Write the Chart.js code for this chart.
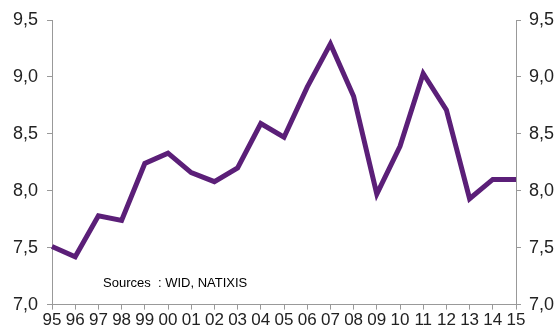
<!DOCTYPE html>
<html lang="fr">
<head>
  <meta charset="UTF-8" />
  <title>Graphique</title>
  <script src="https://cdn.jsdelivr.net/npm/chart.js"></script>
  <style>
    body { margin: 0; background: #fff; }
  </style>
</head>
<body>
  <canvas id="graph" width="557" height="332"></canvas>
  <script>
    const annees = ['95','96','97','98','99','00','01','02','03','04','05','06','07','08','09','10','11','12','13','14','15'];
    const valeurs = [7.51, 7.42, 7.78, 7.74, 8.24, 8.33, 8.16, 8.08, 8.20, 8.59, 8.47, 8.91, 9.29, 8.83, 7.97, 8.39, 9.03, 8.71, 7.93, 8.10, 8.10];
    const source = 'Sources  : WID, NATIXIS';

    const gris = '#999999';
    const police = '"Liberation Sans", Arial, sans-serif';
    const virgule = v => v.toFixed(1).replace('.', ',');

    const texteSource = {
      id: 'texteSource',
      afterDraw(chart) {
        const ctx = chart.ctx;
        const a = chart.chartArea;
        ctx.save();
        ctx.font = '13px ' + police;
        ctx.fillStyle = '#000';
        ctx.textBaseline = 'middle';
        ctx.fillText(source, a.left + 51, a.bottom - 21);
        ctx.restore();
      }
    };

    const axeY = (pos, largeur, pad) => ({
      position: pos,
      min: 7,
      max: 9.5,
      afterFit: s => { s.width = largeur; },
      border: { color: gris, width: 1 },
      grid: { drawOnChartArea: false, drawTicks: true, tickLength: 5, color: gris },
      ticks: {
        stepSize: 0.5,
        color: '#222',
        padding: pad,
        font: { size: 18, family: police },
        callback: v => virgule(v)
      }
    });

    new Chart(document.getElementById('graph'), {
      type: 'line',
      data: {
        labels: annees,
        datasets: [{
          data: valeurs,
          borderColor: '#5b1f78',
          borderWidth: 5,
          pointRadius: 0,
          tension: 0,
          fill: false,
          yAxisID: 'y'
        }]
      },
      options: {
        responsive: false,
        animation: false,
        devicePixelRatio: 1,
        layout: { padding: { top: 20, left: 0, right: 0, bottom: 0 } },
        plugins: { legend: { display: false }, tooltip: { enabled: false } },
        scales: {
          x: {
            offset: false,
            border: { color: gris, width: 1 },
            grid: { drawOnChartArea: false, drawTicks: true, tickLength: 5, color: gris, offset: false },
            ticks: {
              autoSkip: false,
              maxRotation: 0,
              color: '#222',
              padding: 1,
              font: { size: 17, family: police }
            }
          },
          y: axeY('left', 52, 9),
          y2: axeY('right', 41, 8)
        }
      },
      plugins: [texteSource]
    });
  </script>
</body>
</html>
